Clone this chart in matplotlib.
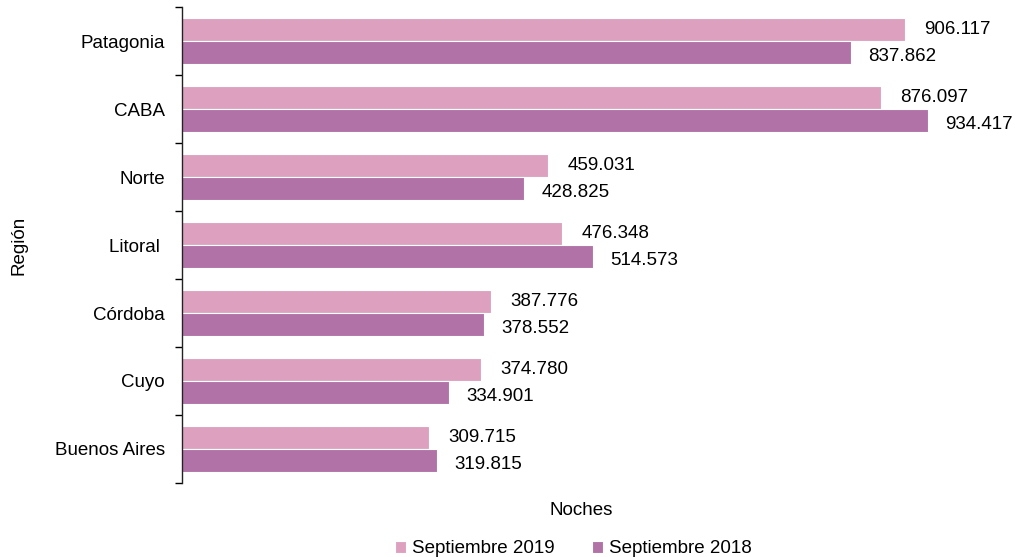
import matplotlib.pyplot as plt
import numpy as np

plt.rcParams['font.family'] = ['Liberation Sans', 'DejaVu Sans']

regiones = ["Patagonia", "CABA", "Norte", "Litoral ", "Córdoba", "Cuyo", "Buenos Aires"]
sep_2019 = [906.117, 876.097, 459.031, 476.348, 387.776, 374.780, 309.715]
sep_2018 = [837.862, 934.417, 428.825, 514.573, 378.552, 334.901, 319.815]
etiquetas_2019 = ["906.117", "876.097", "459.031", "476.348", "387.776", "374.780", "309.715"]
etiquetas_2018 = ["837.862", "934.417", "428.825", "514.573", "378.552", "334.901", "319.815"]

color_2019 = "#DDA1BF"
color_2018 = "#B172A8"
fs = 13.5

fig = plt.figure(figsize=(10.21, 5.57), dpi=100)
ax = fig.add_axes([0.178, 0.133, 0.782, 0.854])

y = np.arange(len(regiones))
h = 0.335
ax.barh(y - h / 2, sep_2019, height=h, color=color_2019, edgecolor="white", linewidth=0.8, label="Septiembre 2019")
ax.barh(y + h / 2, sep_2018, height=h, color=color_2018, edgecolor="white", linewidth=0.8, label="Septiembre 2018")

for yi, v, t in zip(y, sep_2019, etiquetas_2019):
    ax.text(v + 24, yi - h / 2 - 0.005, t, va="center", ha="left", fontsize=fs, clip_on=False)
for yi, v, t in zip(y, sep_2018, etiquetas_2018):
    ax.text(v + 22, yi + h / 2 + 0.06, t, va="center", ha="left", fontsize=fs, clip_on=False)

ax.set_xlim(0, 1000)
ax.set_ylim(len(regiones) - 0.5, -0.5)

ax.set_yticks(y)
ax.set_yticklabels(regiones, fontsize=fs)
ax.tick_params(axis="y", which="major", length=0, pad=12)
ax.set_yticks(np.arange(len(regiones) + 1) - 0.5, minor=True)
ax.tick_params(axis="y", which="minor", length=5, direction="out", width=1)
ax.set_xticks([])

for s in ["top", "right", "bottom"]:
    ax.spines[s].set_visible(False)
ax.spines["left"].set_linewidth(1)
ax.spines["left"].set_color("#222222")

ax.set_xlabel("Noches", fontsize=fs, labelpad=14)
ax.set_ylabel("Región", fontsize=fs, labelpad=0)
ax.yaxis.set_label_coords(-0.193, 0.5)

ax.legend(loc="upper center", bbox_to_anchor=(0.49, -0.085), ncol=2, frameon=False,
          fontsize=fs, handlelength=0.6, handleheight=0.6, handletextpad=0.3, columnspacing=2.0)

fig.savefig("out.png", dpi=100)
